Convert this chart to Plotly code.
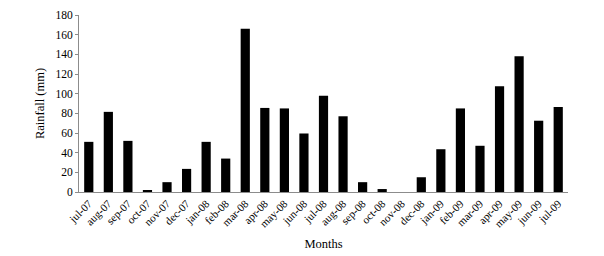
import plotly.graph_objects as go

months = ["jul-07", "aug-07", "sep-07", "oct-07", "nov-07", "dec-07", "jan-08", "feb-08",
          "mar-08", "apr-08", "may-08", "jun-08", "jul-08", "aug-08", "sep-08", "oct-08",
          "nov-08", "dec-08", "jan-09", "feb-09", "mar-09", "apr-09", "may-09", "jun-09", "jul-09"]
rainfall = [51, 81.5, 52, 2, 10, 23.5, 51, 34,
            166, 85.5, 85, 59.5, 98, 77, 10, 3,
            0, 15, 43.5, 85, 47, 107.5, 138, 72.5, 86.5]

fig = go.Figure(go.Bar(x=months, y=rainfall, marker=dict(color="black", line=dict(width=0))))

font = "Liberation Serif, Times New Roman, serif"
fig.update_layout(
    width=596, height=248,
    margin=dict(l=71, r=36, t=7, b=64, autoexpand=False),
    plot_bgcolor="white", paper_bgcolor="white",
    bargap=0.53,
    showlegend=False,
    font=dict(family=font, size=11, color="black"),
)
fig.update_xaxes(
    tickangle=-45, showline=True, linecolor="#8c8c8c", linewidth=1,
    ticks="", showgrid=False, tickfont=dict(family=font, size=11), automargin=False,
    title=dict(text="Months", font=dict(family=font, size=12.5), standoff=10),
)
fig.update_yaxes(
    range=[0, 180], dtick=20, showline=True, linecolor="#8c8c8c", linewidth=1,
    ticks="outside", ticklen=3, tickcolor="#8c8c8c", showgrid=False, automargin=False,
    tickfont=dict(family=font, size=11.5), zeroline=False,
    title=dict(text="Rainfall (mm)", font=dict(family=font, size=12.5), standoff=8),
)
fig.write_html("out.html")
